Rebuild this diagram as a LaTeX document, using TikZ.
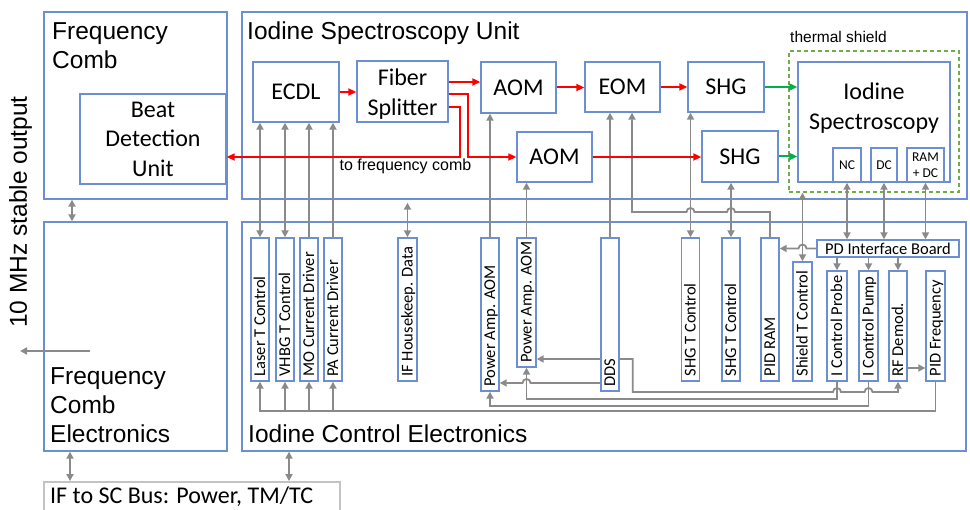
\documentclass[tikz,border=0pt]{standalone}
\usepackage{fontspec}
\setmainfont{Liberation Sans}
\newfontfamily\cbr{Carlito}
\usetikzlibrary{arrows.meta,calc}
\definecolor{boxblue}{RGB}{108,142,212}
\definecolor{lgray}{RGB}{138,138,138}
\definecolor{busgray}{RGB}{195,195,195}
\definecolor{lred}{RGB}{255,0,0}
\definecolor{lgreen}{RGB}{0,176,80}
\definecolor{shgreen}{RGB}{112,173,71}
\newcommand\vunit[6]{%
  \node[vb,minimum width=#3pt,minimum height={(#5-#4)*1pt}] (#1) at (#2,{(#4+#5)/2}) {};
  \node[vt] (#1T) at ($(#1.south)+(0,-5)$) {#6};}
\begin{document}
\begin{tikzpicture}[x=1pt,y=-1pt,
  bx/.style={draw=boxblue,line width=1.4pt,fill=white,inner sep=0pt,align=center,font=\cbr\fontsize{24}{29.5}\selectfont},
  sm/.style={bx,font=\cbr\fontsize{13.5}{16.5}\selectfont},
  ob/.style={draw=boxblue,line width=1.4pt,inner sep=0pt},
  vb/.style={draw=boxblue,line width=1.4pt,fill=white,inner sep=0pt},
  vt/.style={rotate=90,anchor=west,inner sep=0pt,font=\cbr\fontsize{16.5}{18}\selectfont,text height=12pt,text depth=2pt},
  big/.style={anchor=base west,inner sep=0pt,font=\fontsize{24.5}{29}\selectfont},
  gl/.style={draw=lgray,line width=1.8pt},
  ga/.style={gl,-{Triangle[length=7pt,width=7pt]}},
  gd/.style={gl,{Triangle[length=7pt,width=7pt]}-{Triangle[length=7pt,width=7pt]}},
  ra/.style={draw=lred,line width=2pt,-{Triangle[length=8pt,width=7pt]}},
  gra/.style={draw=lgreen,line width=2pt,-{Triangle[length=8pt,width=7pt]}},
]
\useasboundingbox (0,0) rectangle (970,510);
% outer boxes
\node[ob,minimum width=183pt,minimum height=187pt] (fc) at (135.5,105.5) {};
\node[ob,minimum width=725pt,minimum height=187pt] (isu) at (604.5,105.5) {};
\node[ob,minimum width=183pt,minimum height=229pt] (fce) at (135.5,336.5) {};
\node[ob,minimum width=724pt,minimum height=229pt] (ice) at (604,336.5) {};
\node[draw=busgray,line width=1.8pt,minimum width=296pt,minimum height=40pt,inner sep=0pt] (ifbus) at (192,502) {};
\node[anchor=base west,inner sep=0pt,font=\cbr\fontsize{24}{29}\selectfont] (ifbusT) at (50,504) {IF to SC Bus: Power, TM/TC};
% big labels
\node[big] (fcT1) at (52,40) {Frequency};
\node[big] (fcT2) at (52,69) {Comb};
\node[big] (isuT) at (247,40) {Iodine Spectroscopy Unit};
\node[big] (fceT1) at (50,385) {Frequency};
\node[big] (fceT2) at (50,414) {Comb};
\node[big] (fceT3) at (50,443) {Electronics};
\node[big] (iceT) at (248,443) {Iodine Control Electronics};
\node[big,anchor=base,rotate=90] (mhzT) at (27,212) {10 MHz stable output};
% top unit boxes
\node[bx,minimum width=146pt,minimum height=90pt] (beat) at (153,139) {Beat\\Detection\\Unit};
\node[bx,minimum width=86pt,minimum height=60pt] (ecdl) at (296,92) {ECDL};
\node[bx,minimum width=91pt,minimum height=61pt] (fiber) at (402.5,91.5) {};
\node[inner sep=0pt,align=center,font=\cbr\fontsize{24}{29.5}\selectfont] (fiberT) at (402.5,94) {Fiber\\Splitter};
\node[bx,minimum width=75pt,minimum height=51pt] (aom1) at (518.5,87.5) {AOM};
\node[bx,minimum width=75pt,minimum height=50pt] (eom) at (622.5,87) {EOM};
\node[bx,minimum width=76pt,minimum height=50pt] (shg1) at (726,87) {SHG};
\node[draw=shgreen,line width=1.4pt,dash pattern=on 4pt off 3pt,minimum width=170pt,minimum height=141pt,inner sep=0pt] (shield) at (874,121.5) {};
\node[anchor=base west,inner sep=0pt,font=\fontsize{15.5}{18}\selectfont] (shieldL) at (790,43) {thermal shield};
\node[bx,minimum width=152pt,minimum height=120pt] (iod) at (874,122) {};
\node[inner sep=0pt,align=center,font=\cbr\fontsize{24}{30.5}\selectfont] (iodT) at (874,108) {Iodine\\Spectroscopy};
\node[sm,minimum width=28pt,minimum height=34pt] (nc) at (847,165) {NC};
\node[sm,minimum width=26pt,minimum height=34pt] (dc) at (884,165) {DC};
\node[sm,minimum width=37pt,minimum height=34pt] (ram) at (925.5,165) {RAM\\+ DC};
\node[bx,minimum width=76pt,minimum height=51pt] (shg2) at (740,156.5) {SHG};
\node[bx,minimum width=75pt,minimum height=50pt] (aom2) at (554.5,157) {AOM};
\node[anchor=base,inner sep=0pt,font=\fontsize{16}{18}\selectfont] (combL) at (405.5,171) {to frequency comb};
% bottom unit boxes
\vunit{laser}{260}{18}{238}{381}{Laser T Control}
\vunit{vhbg}{285}{18}{238}{381}{VHBG T Control}
\vunit{mo}{309}{18}{238}{381}{MO Current Driver}
\vunit{pa}{333}{18}{238}{381}{PA Current Driver}
\vunit{ifhk}{407.5}{19}{238}{381}{IF Housekeep. Data}
\vunit{pa1}{490}{18}{238}{391}{Power Amp. AOM}
\vunit{pa2}{526.5}{19}{238}{367}{Power Amp. AOM}
\vunit{dds}{610}{18}{238}{391}{DDS}
\vunit{shgt1}{690.5}{18}{238}{381}{SHG T Control}
\vunit{shgt2}{731}{18}{238}{381}{SHG T Control}
\vunit{pidram}{770}{18}{238}{381}{PID RAM}
\vunit{shieldt}{802.5}{19}{262}{381}{Shield T Control}
\vunit{probe}{837}{20}{271}{381}{I Control Probe}
\vunit{pump}{868.5}{19}{271}{381}{I Control Pump}
\vunit{rf}{898}{18}{271}{381}{RF Demod.}
\vunit{pidf}{935.5}{19}{271}{381}{PID Frequency}
\node[bx,font=\cbr\fontsize{16.5}{18}\selectfont,minimum width=142pt,minimum height=17pt] (pd) at (888,248.5) {PD Interface Board};
% helper coordinates
\coordinate (xcomb) at (72,0);
\coordinate (xbus1) at (70,0);
\coordinate (xbus2) at (289,0);
\coordinate (mhzS) at (90,351);
\coordinate (mhzE) at (20,351);
\coordinate (yhop) at (0,212);
\coordinate (yA) at (0,359);
\coordinate (yB) at (0,383);
\coordinate (yC) at (0,392);
\coordinate (yD) at (0,399);
\coordinate (yE) at (0,406);
\coordinate (yF) at (0,411);
\coordinate (yRF) at (0,368);
\coordinate (eomR) at ($(eom.south)+(9.5,0)$);
\coordinate (ddsR) at ($(dds.east |- yA)+(13,0)$);
% gray connectors
\draw[gd] (fc.south -| xcomb) -- (fce.north -| xcomb);
\draw[gd] (fce.south -| xbus1) -- (ifbus.north -| xbus1);
\draw[gd] (ice.south -| xbus2) -- (ifbus.north -| xbus2);
\draw[ga] (mhzS) -- (mhzE);
\draw[gd] (laser.north) -- (laser.north |- ecdl.south);
\draw[gd] (vhbg.north) -- (vhbg.north |- ecdl.south);
\draw[ga] (mo.north) -- (mo.north |- ecdl.south);
\draw[ga] (pa.north) -- (pa.north |- ecdl.south);
\draw[gd] (ifhk.north) -- ($(ifhk.north |- isu.south)+(0,3)$);
\draw[ga] (pa1.north) -- (pa1.north |- aom1.south);
\draw[ga] (pa2.north) -- (pa2.north |- aom2.south);
\draw[ga] (dds.north) -- (dds.north |- eom.south);
\draw[ga] (pidram.north) -- (pidram.north |- yhop)
  -- ($(shgt2.north |- yhop)+(4,0)$) arc[start angle=0,end angle=180,radius=4pt]
  -- ($(shgt1.north |- yhop)+(4,0)$) arc[start angle=0,end angle=180,radius=4pt]
  -- (eomR |- yhop) -- (eomR);
\draw[gd] (shgt1.north) -- (shgt1.north |- shg1.south);
\draw[gd] (shgt2.north) -- (shgt2.north |- shg2.south);
\draw[gd] (shieldt.north) -- (shieldt.north |- shield.south);
\draw[gd] (nc.south) -- (nc.south |- pd.north);
\draw[gd] (dc.south) -- (dc.south |- pd.north);
\draw[gd] (ram.south) -- (ram.south |- pd.north);
\draw[ga] (pd.west) -- ($(shieldt.north |- pd.west)+(4,0)$) arc[start angle=0,end angle=180,radius=4pt] -- (pidram.east |- pd.west);
\draw[ga] (pd.south -| probe.north) -- (probe.north);
\draw[ga] (pd.south -| pump.north) -- (pump.north);
\draw[ga] (pd.south -| rf.north) -- (rf.north);
\draw[ga] (rf.east |- yRF) -- (pidf.west |- yRF);
\draw[ga] (dds.west |- yA) -- (pa2.east |- yA);
\draw[ga] (dds.west |- yB) -- ($(pa2.south |- yB)+(4,0)$) arc[start angle=0,end angle=180,radius=4pt] -- (pa1.east |- yB);
\draw[ga] (dds.east |- yA) -- (ddsR) -- (ddsR |- yC)
  -- ($(probe.south |- yC)+(-4,0)$) arc[start angle=180,end angle=0,radius=4pt]
  -- ($(pump.south |- yC)+(-4,0)$) arc[start angle=180,end angle=0,radius=4pt]
  -- (rf.south |- yC) -- (rf.south);
\draw[ga] (probe.south) -- (probe.south |- yD) -- (pa2.south |- yD) -- (pa2.south);
\draw[ga] (pump.south) -- (pump.south |- yE) -- (pa1.south |- yE) -- (pa1.south);
\draw[ga] (pidf.south) -- (pidf.south |- yF) -- (laser.south |- yF) -- (laser.south);
\draw[ga] (vhbg.south |- yF) -- (vhbg.south);
\draw[ga] (mo.south |- yF) -- (mo.south);
\draw[ga] (pa.south |- yF) -- (pa.south);
% red optical paths
\coordinate (fo1) at ($(fiber.east)+(0,-9.5)$);
\coordinate (fo2) at ($(fiber.east)+(0,2.5)$);
\coordinate (fo3) at ($(fiber.east)+(0,15.5)$);
\coordinate (xr2) at (468,0);
\coordinate (xr3) at (460,0);
\coordinate (yred) at (0,157);
\draw[ra] (ecdl.east) -- (ecdl.east -| fiber.west);
\draw[ra] (fo1) -- (fo1 -| aom1.west);
\draw[ra] (fo2) -- (fo2 -| xr2) -- (xr2 |- yred) -- (aom2.west |- yred);
\draw[ra] (fo3) -- (fo3 -| xr3) -- (xr3 |- yred) -- (beat.east |- yred);
\draw[ra] (aom1.east) -- (aom1.east -| eom.west);
\draw[ra] (eom.east) -- (eom.east -| shg1.west);
\draw[ra] (aom2.east) -- (aom2.east -| shg2.west);
\draw[gra] (shg1.east) -- (shg1.east -| iod.west);
\draw[gra] (shg2.east) -- (shg2.east -| iod.west);
\end{tikzpicture}
\end{document}
